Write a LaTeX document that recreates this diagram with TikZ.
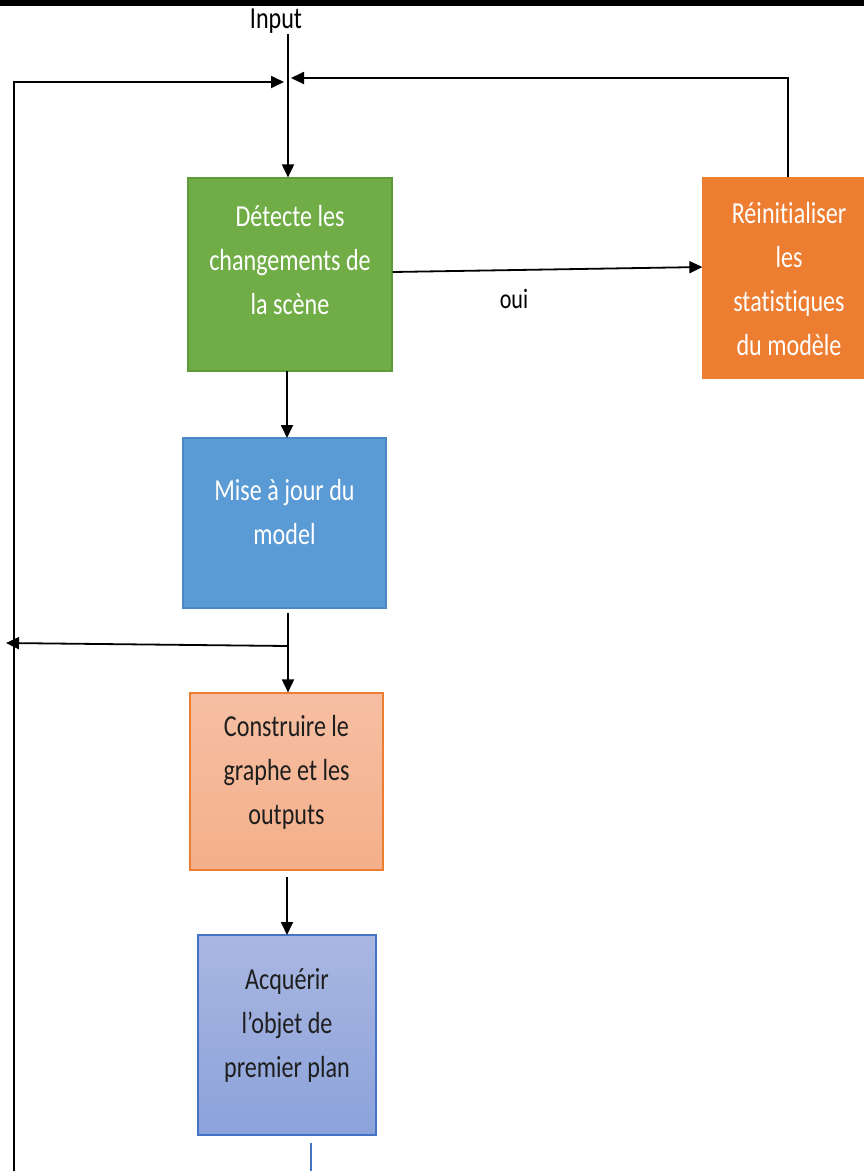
\documentclass[tikz,border=0pt]{standalone}
\usepackage{fontspec}
\newfontfamily\boxfont[FakeStretch=0.79,Ligatures={NoCommon}]{Carlito}
\usetikzlibrary{arrows.meta}
\definecolor{grn}{HTML}{70AD47}
\definecolor{grnline}{HTML}{5E9A3A}
\definecolor{org}{HTML}{ED7D31}
\definecolor{blu}{HTML}{5B9BD5}
\definecolor{bluline}{HTML}{4A88C6}
\definecolor{salmtop}{HTML}{F6BFA3}
\definecolor{salmbot}{HTML}{F4AF8A}
\definecolor{lavtop}{HTML}{A9B7E1}
\definecolor{lavbot}{HTML}{8CA2DA}
\definecolor{lavline}{HTML}{4472C4}
\definecolor{txtdark}{HTML}{1E1E1E}
\tikzset{
  x=1pt, y=-1pt,
  procbox/.style={rectangle, inner sep=0pt, line width=1.2pt},
  boxtext/.style={align=center, inner sep=0pt,
    font=\boxfont\fontsize{30.5}{44}\selectfont},
  arr/.style={line width=1.8pt, -{Triangle[length=13pt,width=12pt]}},
  plain/.style={line width=1.8pt},
}
\begin{document}
\begin{tikzpicture}
  \useasboundingbox (0,0) rectangle (864,1171);
  \fill[white] (0,0) rectangle (864,1171);
  % top black band
  \fill[black] (0,0) rectangle (864,6);

  % process boxes
  \node[procbox, fill=grn, draw=grnline,
        minimum width=204pt, minimum height=193pt] (detect) at (290,274.5) {};
  \node[procbox, fill=org, draw=org,
        minimum width=162pt, minimum height=200pt] (reset) at (784,278) {};
  \node[procbox, fill=blu, draw=bluline,
        minimum width=203pt, minimum height=170pt] (update) at (284.5,523) {};
  \node[procbox, top color=salmtop, bottom color=salmbot, draw=org,
        minimum width=193pt, minimum height=177pt] (graph) at (286.5,781.5) {};
  \node[procbox, top color=lavtop, bottom color=lavbot, draw=lavline,
        minimum width=178pt, minimum height=200pt] (acquire) at (287,1035) {};

  % box captions
  \node[boxtext, text=white] (detectText) at (290,260)
        {Détecte les\\changements de\\la scène};
  \node[boxtext, text=white] (resetText) at (789,279)
        {Réinitialiser\\les\\statistiques\\du modèle};
  \node[boxtext, text=white] (updateText) at (284.5,512)
        {Mise à jour du\\model};
  \node[boxtext, text=txtdark] (graphText) at (286.5,772.5)
        {Construire le\\graphe et les\\outputs};
  \node[boxtext, text=txtdark] (acquireText) at (287,1025)
        {Acquérir\\l’objet de\\premier plan};

  % labels
  \node[boxtext] (input) at (276,21) {Input};
  \node[font=\boxfont\fontsize{28}{32}\selectfont, inner sep=0pt] (oui) at (514,299) {oui};

  % junction points
  \coordinate (inTop) at (288,34);
  \coordinate (joinL) at (284,82);
  \coordinate (joinR) at (291,78);
  \coordinate (loopBot) at (14,1171);
  \coordinate (loopTop) at (14,82);
  \coordinate (updOut) at (288,613);
  \coordinate (split) at (288,646);
  \coordinate (leftTip) at (6,643);
  \coordinate (tailTop) at (311,1143);
  \coordinate (tailBot) at (311,1171);

  % input line into the detection box
  \draw[arr] (inTop) -- (inTop |- detect.north);
  % feedback loop on the left
  \draw[arr] (loopBot) -- (loopTop) -- (joinL);
  % reset loop on the right
  \draw[arr] (reset.north -| 788,0) |- (joinR);
  % yes branch
  \draw[arr] ([yshift=2.5pt]detect.east) -- ([yshift=11pt]reset.west);
  % main flow
  \draw[arr] (287,371) -- (287,438);
  \draw[plain] (updOut) -- (split);
  \draw[arr] (split) -- (split |- graph.north);
  \draw[arr] (split) -- (leftTip);
  \draw[arr] (287,877) -- (287,935);
  % outgoing stub
  \draw[lavline, line width=1.2pt] (tailTop) -- (tailBot);
\end{tikzpicture}
\end{document}
